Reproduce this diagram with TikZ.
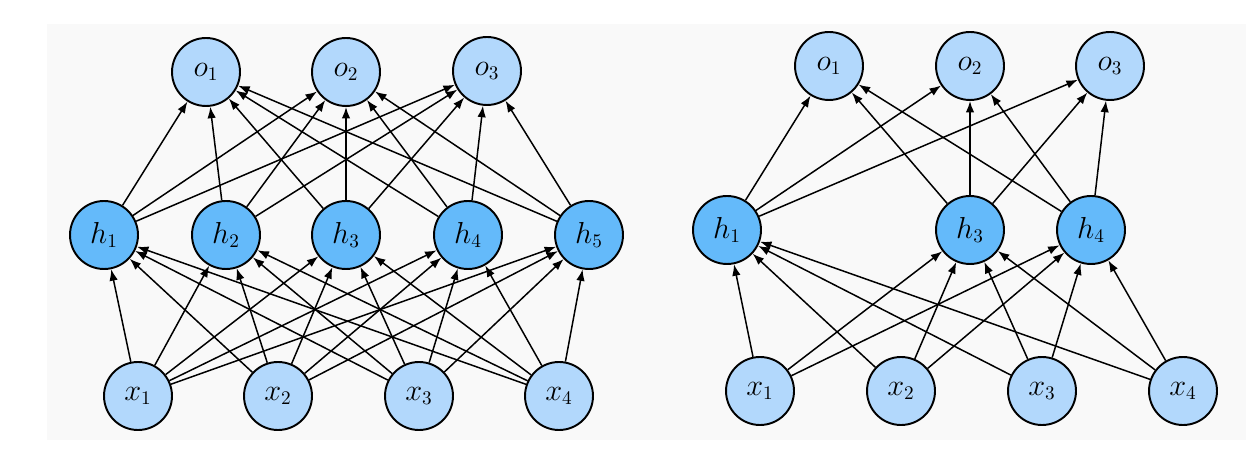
\documentclass[tikz,border=0pt]{standalone}
\usetikzlibrary{arrows.meta}
\definecolor{panelbg}{RGB}{249,249,249}
\definecolor{unitlight}{RGB}{178,216,252}
\definecolor{unitdark}{RGB}{100,186,250}

\begin{document}
\begin{tikzpicture}[
  x=0.02cm, y=-0.02cm,
  > = {Latex[length=2.3mm,width=1.7mm]},
  unit/.style = {draw,circle,line width=1.1pt,minimum size=1.36cm,inner sep=0pt,font=\fontsize{16}{18}\selectfont},
  light/.style = {unit,fill=unitlight},
  dark/.style = {unit,fill=unitdark},
  wire/.style = {->,line width=0.85pt}
  ]
  \useasboundingbox (0,0) rectangle (1246,455);
  \fill[panelbg] (47,24) rectangle (1246,440);

  % left net: all units
  \node[light] (lo1) at (206,72) {$o_1$};
  \node[light] (lo2) at (346,72) {$o_2$};
  \node[light] (lo3) at (487,71) {$o_3$};

  \node[dark] (lh1) at (104,235) {$h_1$};
  \node[dark] (lh2) at (226,235) {$h_2$};
  \node[dark] (lh3) at (346,235) {$h_3$};
  \node[dark] (lh4) at (468,235) {$h_4$};
  \node[dark] (lh5) at (589,235) {$h_5$};

  \node[light] (lx1) at (138,396) {$x_1$};
  \node[light] (lx2) at (278,396) {$x_2$};
  \node[light] (lx3) at (419,396) {$x_3$};
  \node[light] (lx4) at (559,396) {$x_4$};

  \foreach \i in {1,...,4}
    \foreach \j in {1,...,5}
      \draw[wire] (lx\i) -- (lh\j);
  \foreach \j in {1,...,5}
    \foreach \k in {1,2,3}
      \draw[wire] (lh\j) -- (lo\k);

  % right net: h2 and h5 dropped
  \node[light] (ro1) at (829,66) {$o_1$};
  \node[light] (ro2) at (970,66) {$o_2$};
  \node[light] (ro3) at (1110,66) {$o_3$};

  \node[dark] (rh1) at (727,230) {$h_1$};
  \node[dark] (rh3) at (970,230) {$h_3$};
  \node[dark] (rh4) at (1091,230) {$h_4$};

  \node[light] (rx1) at (760,391) {$x_1$};
  \node[light] (rx2) at (901,391) {$x_2$};
  \node[light] (rx3) at (1042,391) {$x_3$};
  \node[light] (rx4) at (1183,391) {$x_4$};

  \foreach \i in {1,...,4}
    \foreach \j in {1,3,4}
      \draw[wire] (rx\i) -- (rh\j);
  \foreach \j in {1,3,4}
    \foreach \k in {1,2,3}
      \draw[wire] (rh\j) -- (ro\k);

\end{tikzpicture}
\end{document}
